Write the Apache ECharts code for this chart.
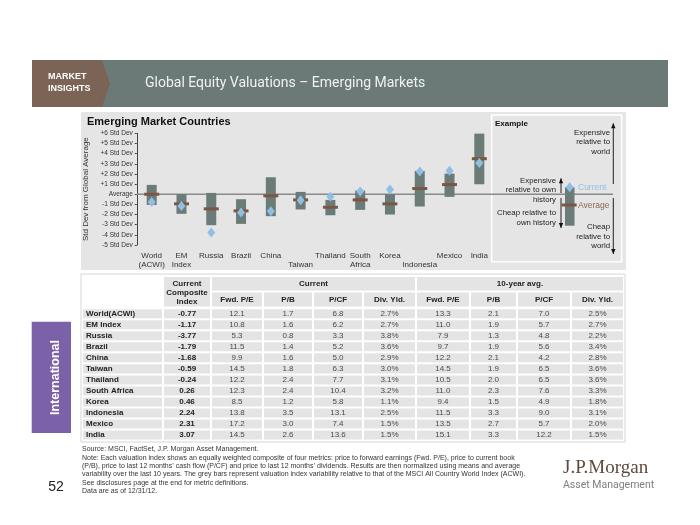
<!DOCTYPE html>
<html><head><meta charset="utf-8">
<script src="https://cdn.jsdelivr.net/npm/echarts@6/dist/echarts.min.js"></script>
<style>html,body{margin:0;padding:0;background:#fff}#c{width:700px;height:525px}</style>
</head><body><div id="c"></div>
<script>
// ---- chart data ----
const categories = ['World\n(ACWI)','EM\nIndex','Russia','Brazil','China','\nTaiwan','Thailand','South\nAfrica','Korea','\nIndonesia','Mexico','India'];
const rangeHigh = [0.92, 0.00, 0.13, -0.49, 1.67, 0.23, -0.56, 0.36, 0.00, 2.30, 2.03, 5.97];
const rangeLow  = [-1.05, -1.93, -3.05, -2.92, -2.16, -1.50, -2.07, -1.54, -2.00, -1.21, -0.26, 0.98];
const avgMark   = [0.00, -0.95, -1.44, -1.64, -0.16, -0.56, -1.28, -0.56, -0.95, 0.56, 0.95, 3.50];
const yTickLabels = ['-5 Std Dev','-4 Std Dev','-3 Std Dev','-2 Std Dev','-1 Std Dev','Average','+1 Std Dev','+2 Std Dev','+3 Std Dev','+4 Std Dev','+5 Std Dev','+6 Std Dev'];

// ---- table data ----
const rowNames  = ['World(ACWI)','EM Index','Russia','Brazil','China','Taiwan','Thailand','South Africa','Korea','Indonesia','Mexico','India'];
const composite = [-0.77, -1.17, -3.77, -1.79, -1.68, -0.59, -0.24, 0.26, 0.46, 2.24, 2.31, 3.07];
const curFwdPE  = [12.1, 10.8, 5.3, 11.5, 9.9, 14.5, 12.2, 12.3, 8.5, 13.8, 17.2, 14.5];
const curPB     = [1.7, 1.6, 0.8, 1.4, 1.6, 1.8, 2.4, 2.4, 1.2, 3.5, 3.0, 2.6];
const curPCF    = [6.8, 6.2, 3.3, 5.2, 5.0, 6.3, 7.7, 10.4, 5.8, 13.1, 7.4, 13.6];
const curDiv    = [2.7, 2.7, 3.8, 3.6, 2.9, 3.0, 3.1, 3.2, 1.1, 2.5, 1.5, 1.5];
const avgFwdPE  = [13.3, 11.0, 7.9, 9.7, 12.2, 14.5, 10.5, 11.0, 9.4, 11.5, 13.5, 15.1];
const avgPB     = [2.1, 1.9, 1.3, 1.9, 2.1, 1.9, 2.0, 2.3, 1.5, 3.3, 2.7, 3.3];
const avgPCF    = [7.0, 5.7, 4.8, 5.6, 4.2, 6.5, 6.5, 7.6, 4.9, 9.0, 5.7, 12.2];
const avgDiv    = [2.5, 2.7, 2.2, 3.4, 2.8, 3.6, 3.6, 3.3, 1.8, 3.1, 2.0, 1.5];
const subHeaders = ['Fwd. P/E','P/B','P/CF','Div. Yld.','Fwd. P/E','P/B','P/CF','Div. Yld.'];

const footLines = [
 'Source: MSCI, FactSet, J.P. Morgan Asset Management.',
 'Note: Each valuation index shows an equally weighted composite of four metrics: price to forward earnings (Fwd. P/E), price to current book',
 '(P/B), price to last 12 months\u2019 cash flow (P/CF) and price to last 12 months\u2019 dividends. Results are then normalized using means and average',
 'variability over the last 10 years. The grey bars represent valuation index variability relative to that of the MSCI All Country World Index (ACWI).',
 'See disclosures page at the end for metric definitions.',
 'Data are as of 12/31/12.'
];

const FONT = 'Liberation Sans, Arial, sans-serif';
const chart = echarts.init(document.getElementById('c'), null, {renderer:'canvas'});

const option = {
  animation: false,
  textStyle: {fontFamily: FONT},
  grid: {left: 136.8, top: 133.3, width: 357.4, height: 111.7, containLabel: false},
  xAxis: {
    type: 'category', data: categories,
    axisLine: {show: false}, axisTick: {show: false},
    axisLabel: {interval: 0, fontSize: 8, lineHeight: 9, color: '#333', margin: 6, fontFamily: FONT}
  },
  yAxis: {
    type: 'value', min: -5, max: 6, interval: 1,
    axisLine: {show: true, lineStyle: {color: '#444', width: 1}},
    axisTick: {show: true, length: 2, lineStyle: {color: '#444'}},
    splitLine: {show: false},
    axisLabel: {fontSize: 6.5, color: '#333', margin: 4, fontFamily: FONT,
      formatter: v => yTickLabels[Math.round(v) + 5]},
    name: 'Std Dev from Global Average', nameLocation: 'middle', nameGap: 37, nameRotate: 90,
    nameTextStyle: {fontSize: 8, color: '#333', fontFamily: FONT}
  },
  series: [
    {
      type: 'custom', z: 3,
      renderItem: (params, api) => {
        const t = api.coord([api.value(0), api.value(1)]);
        const b = api.coord([api.value(0), api.value(2)]);
        return {type: 'rect', shape: {x: t[0] - 5, y: t[1], width: 10, height: b[1] - t[1]},
                style: {fill: '#6b7b78'}};
      },
      encode: {x: 0, y: [1, 2]},
      data: categories.map((c, i) => [i, rangeHigh[i], rangeLow[i]])
    },
    {type: 'scatter', z: 4, symbol: 'rect', symbolSize: [15, 3],
     itemStyle: {color: '#7c5545', opacity: 1}, data: avgMark},
    {type: 'scatter', z: 5, symbol: 'diamond', symbolSize: [8, 10],
     itemStyle: {color: '#8fbfe3', opacity: 1}, data: composite}
  ]
};
chart.setOption(option);

const y0 = chart.convertToPixel({yAxisIndex: 0}, 0);

const g = [];
// header band
g.push({type:'rect', z:-10, shape:{x:32,y:60,width:636,height:47}, style:{fill:'#6c7a77'}});
g.push({type:'polygon', z:-9, shape:{points:[[32,60],[102,60],[110,83.5],[102,107],[32,107]]}, style:{fill:'#7b6356'}});
g.push({type:'text', z:-8, style:{x:48,y:77,text:'MARKET',fill:'#fff',font:'bold 9px '+FONT,verticalAlign:'middle'}});
g.push({type:'text', z:-8, style:{x:48,y:88.5,text:'INSIGHTS',fill:'#fff',font:'bold 9px '+FONT,verticalAlign:'middle'}});
g.push({type:'text', z:-8, style:{x:145,y:83.5,text:'Global Equity Valuations \u2013 Emerging Markets',fill:'#eef1f0',font:'14px Roboto, sans-serif',verticalAlign:'middle'}});

// chart panel
g.push({type:'rect', z:-10, shape:{x:81,y:112,width:545,height:158}, style:{fill:'#e5e5e5'}});
g.push({type:'text', z:-8, style:{x:87,y:122,text:'Emerging Market Countries',fill:'#111',font:'bold 11px '+FONT,verticalAlign:'middle'}});
// example box
g.push({type:'rect', z:-9, shape:{x:491.7,y:115,width:130,height:146.7}, style:{fill:'none',stroke:'#fff',lineWidth:1.5}});
// zero line
g.push({type:'line', z:1, shape:{x1:137,y1:y0,x2:613,y2:y0}, style:{stroke:'#8a8a8a',lineWidth:1.5}});
g.push({type:'text', z:10, style:{x:495,y:123.5,text:'Example',fill:'#111',font:'bold 8px '+FONT,verticalAlign:'middle'}});
// example bar, avg, current
g.push({type:'rect', z:10, shape:{x:565,y:187.3,width:9.5,height:38.4}, style:{fill:'#6b7b78'}});
g.push({type:'rect', z:11, shape:{x:561.7,y:203.5,width:15,height:3}, style:{fill:'#7c5545'}});
g.push({type:'polygon', z:12, shape:{points:[[569.7,182.3],[573.7,187.3],[569.7,192.3],[565.7,187.3]]}, style:{fill:'#8fbfe3'}});
g.push({type:'text', z:10, style:{x:578,y:187.5,text:'Current',fill:'#8fbfe3',font:'8.5px '+FONT,verticalAlign:'middle'}});
g.push({type:'text', z:10, style:{x:578,y:205.5,text:'Average',fill:'#8b6655',font:'8.5px '+FONT,verticalAlign:'middle'}});
// arrows
function arrow(x, y1, y2, up) {
  g.push({type:'line', z:10, shape:{x1:x,y1:y1,x2:x,y2:y2}, style:{stroke:'#222',lineWidth:1}});
  const tip = up ? y1 : y2, d = up ? 5 : -5;
  g.push({type:'polygon', z:10, shape:{points:[[x,tip],[x-2.2,tip+d],[x+2.2,tip+d]]}, style:{fill:'#111'}});
}
arrow(613.3, 123.3, 184, true);
arrow(613.3, 198, 254, false);
arrow(561, 178.3, 193, true);
arrow(561, 198, 228, false);
function rtext(x, y, s) {
  g.push({type:'text', z:10, style:{x:x,y:y,text:s,fill:'#222',font:'7.8px '+FONT,align:'right',verticalAlign:'middle'}});
}
rtext(610,132.7,'Expensive'); rtext(610,142.3,'relative to'); rtext(610,152,'world');
rtext(610,226.7,'Cheap'); rtext(610,236.7,'relative to'); rtext(610,246,'world');
rtext(556,181,'Expensive'); rtext(556,190.3,'relative to own'); rtext(556,200,'history');
rtext(556,213.3,'Cheap relative to'); rtext(556,223.3,'own history');

// table
const colEdges = [82,163,211,263,313,363,416,470,517,571,624];
const rowTop = 308.2, rowH = 11.03;
g.push({type:'rect', z:-10, shape:{x:81,y:274,width:544,height:168}, style:{fill:'#fff',stroke:'#d6d6d6',lineWidth:1}});
const CELL = '#e4e4e4';
function cell(x1,y1,x2,y2){ g.push({type:'rect', z:-9, shape:{x:x1+1,y:y1+1,width:x2-x1-2,height:y2-y1-2}, style:{fill:CELL}}); }
function ctext(x,y,s,bold,color){ g.push({type:'text', z:-8, style:{x:x,y:y,text:s,fill:color,font:(bold?'bold ':'')+'8px '+FONT,align:'center',verticalAlign:'middle'}}); }
// header cells
cell(colEdges[1],276,colEdges[2],307.5);
g.push({type:'text', z:-8, style:{x:(colEdges[1]+colEdges[2])/2,y:293,text:'Current\nComposite\nIndex',fill:'#222',font:'bold 8px '+FONT,align:'center',verticalAlign:'middle',lineHeight:9}});
cell(colEdges[2],276,colEdges[6],291.5);
cell(colEdges[6],276,colEdges[10],291.5);
ctext((colEdges[2]+colEdges[6])/2,284,'Current',true,'#222');
ctext((colEdges[6]+colEdges[10])/2,284,'10-year avg.',true,'#222');
for (let j=0;j<8;j++){
  cell(colEdges[j+2],291.5,colEdges[j+3],307.5);
  ctext((colEdges[j+2]+colEdges[j+3])/2,300,subHeaders[j],true,'#222');
}
const cols = [curFwdPE,curPB,curPCF,curDiv,avgFwdPE,avgPB,avgPCF,avgDiv];
for (let i=0;i<rowNames.length;i++){
  const y1 = rowTop + i*rowH, y2 = y1 + rowH, yc = (y1+y2)/2;
  for (let j=0;j<10;j++) cell(colEdges[j], y1, colEdges[j+1], y2);
  g.push({type:'text', z:-8, style:{x:86,y:yc,text:rowNames[i],fill:'#222',font:'bold 8px '+FONT,verticalAlign:'middle'}});
  ctext((colEdges[1]+colEdges[2])/2, yc, composite[i].toFixed(2), true, '#222');
  for (let j=0;j<8;j++){
    const v = cols[j][i];
    const s = (j===3||j===7) ? v.toFixed(1)+'%' : v.toFixed(1);
    ctext((colEdges[j+2]+colEdges[j+3])/2, yc, s, false, '#4a4a4a');
  }
}

// side tab
g.push({type:'rect', z:-10, shape:{x:31.7,y:321.7,width:39.3,height:111.3}, style:{fill:'#7b62a8'}});
g.push({type:'text', z:-8, rotation:Math.PI/2, x:55.5, y:377.5, style:{x:0,y:0,text:'International',fill:'#fff',font:'bold 12.5px '+FONT,align:'center',verticalAlign:'middle'}});

// footnotes
footLines.forEach((s,i)=>{
  g.push({type:'text', z:-8, style:{x:82,y:449.5+i*8.3,text:s,fill:'#333',font:'7px '+FONT,verticalAlign:'middle'}});
});
g.push({type:'text', z:-8, style:{x:56,y:487,text:'52',fill:'#222',font:'14px '+FONT,align:'center',verticalAlign:'middle'}});

// logo
g.push({type:'text', z:-8, style:{x:563,y:468.5,text:'J.P.Morgan',fill:'#5e4a3c',font:'19px "Liberation Serif", serif',verticalAlign:'middle'}});
g.push({type:'text', z:-8, style:{x:563,y:485,text:'Asset Management',fill:'#7f7f7f',font:'10.5px Roboto, sans-serif',verticalAlign:'middle'}});

chart.setOption({graphic: {elements: g}});
</script>
</body></html>
